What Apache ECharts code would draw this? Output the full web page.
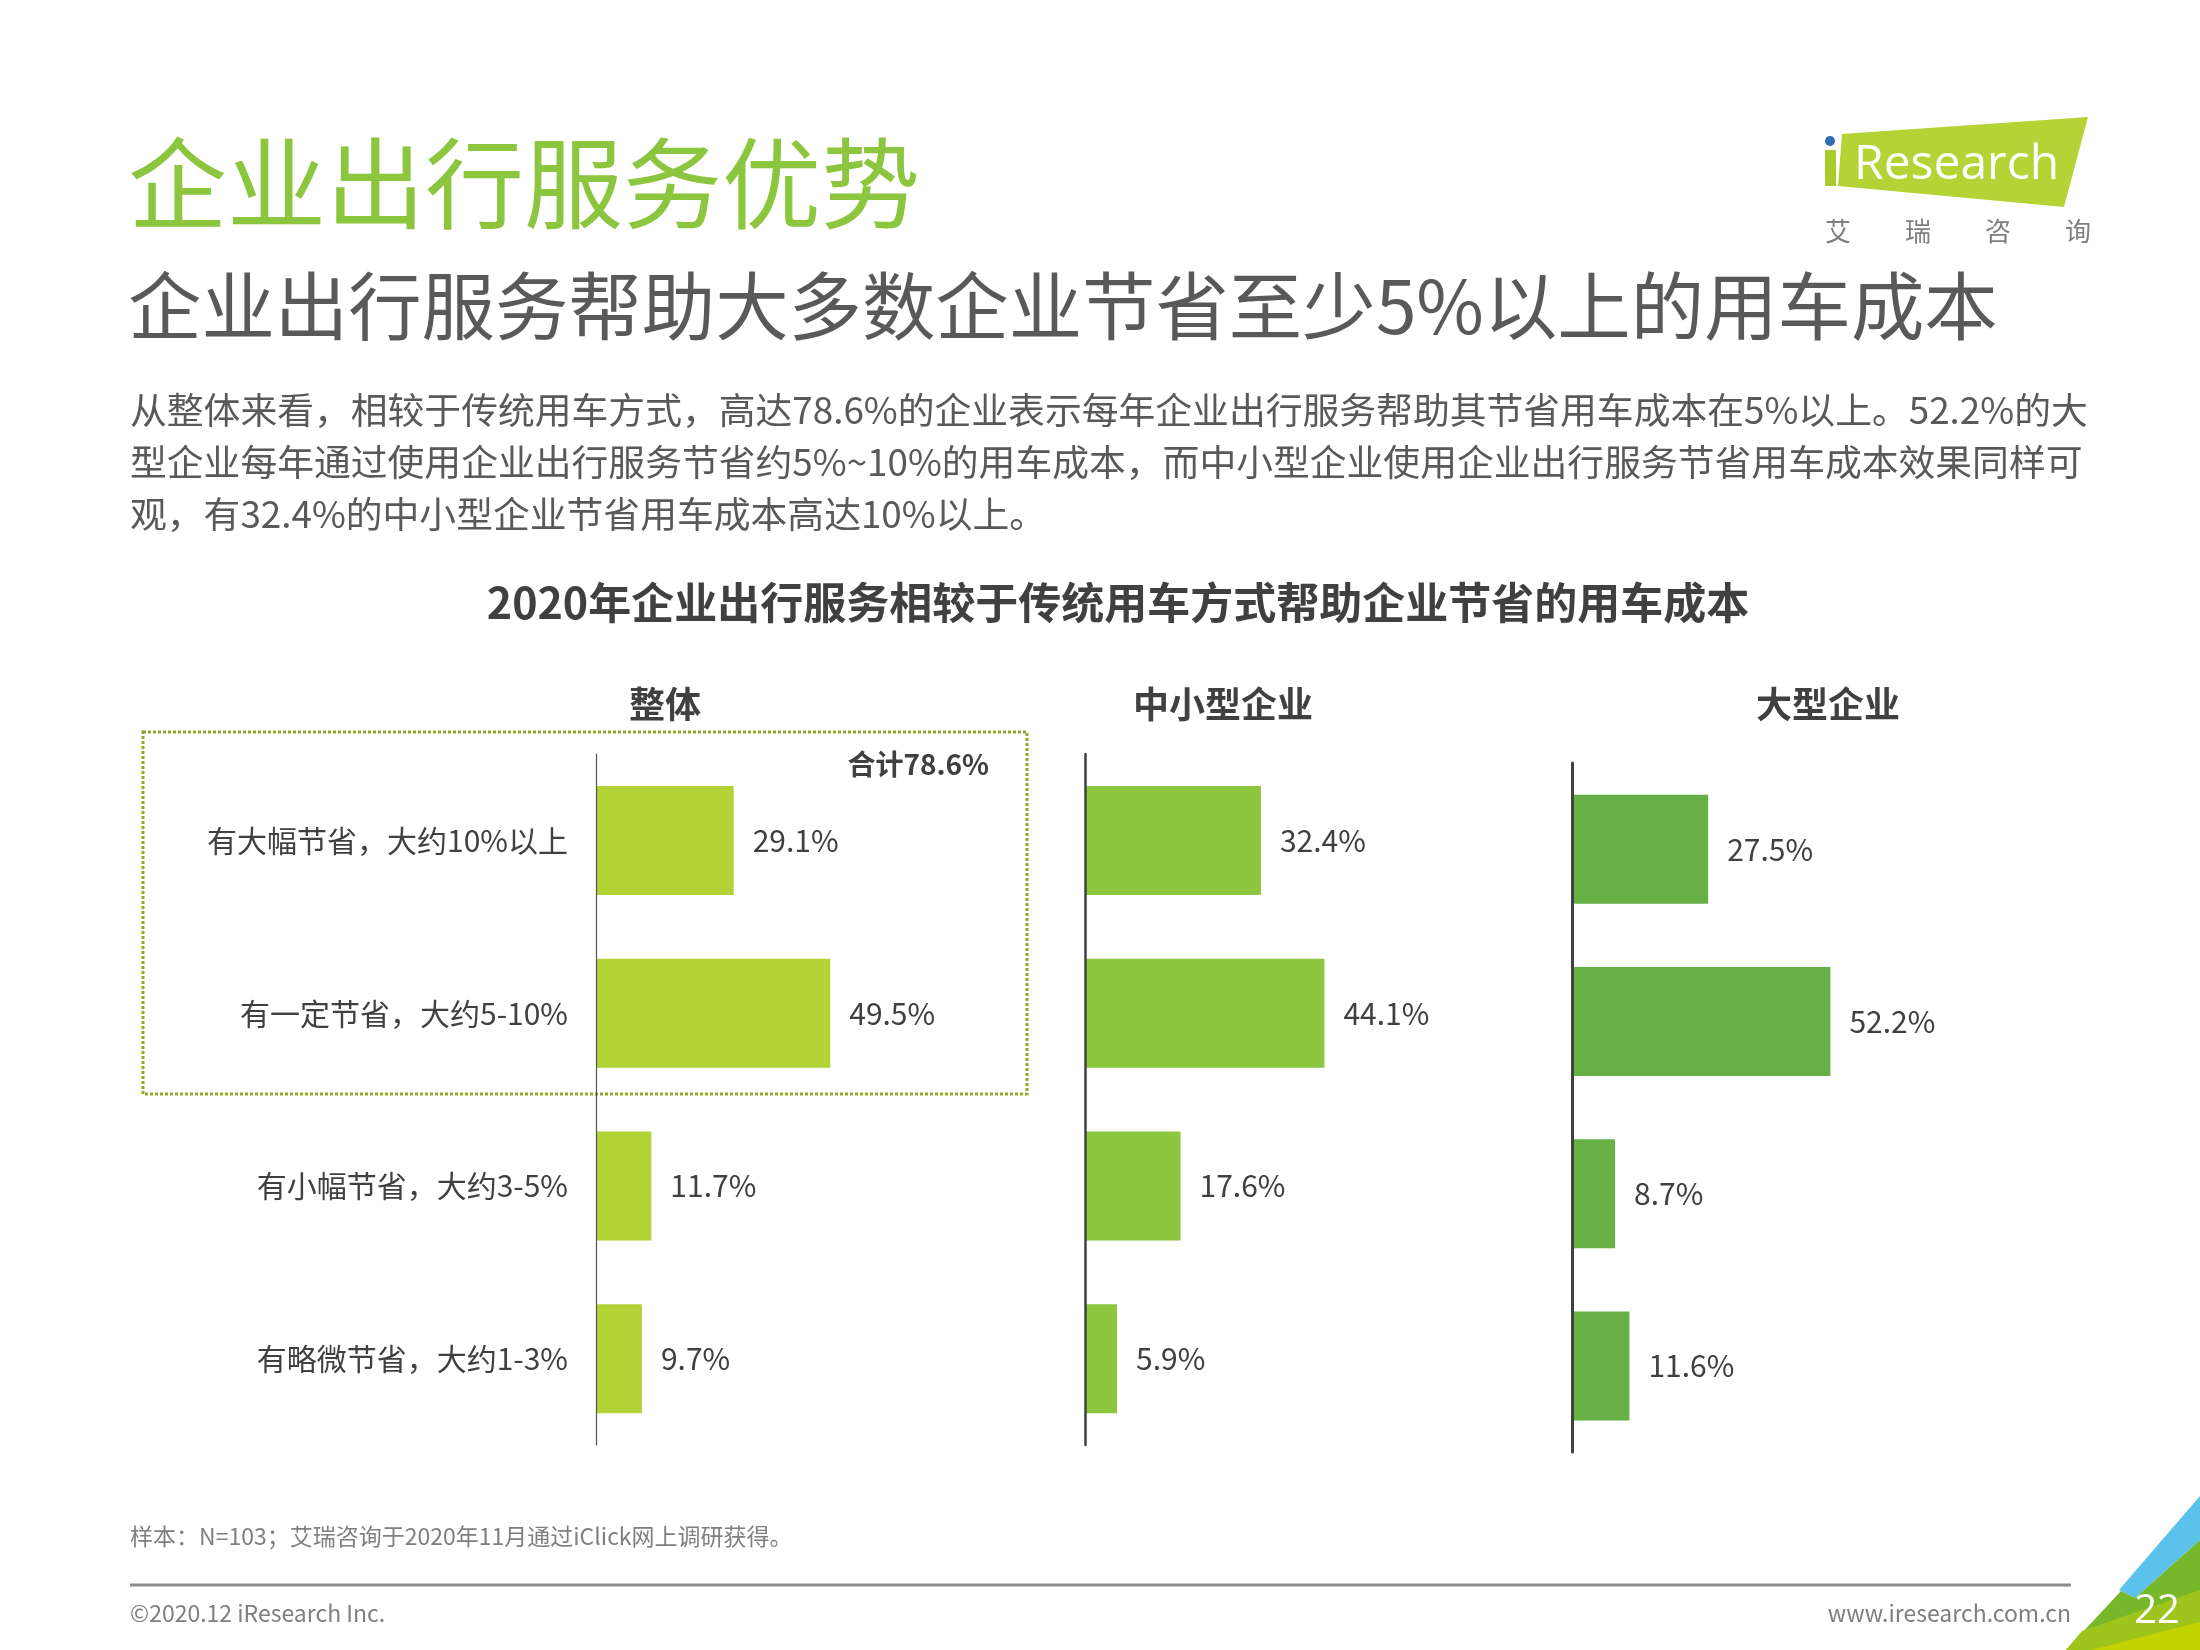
<!DOCTYPE html>
<html><head><meta charset="utf-8">
<script src="https://cdn.jsdelivr.net/npm/echarts@6/dist/echarts.min.js"></script>
<style>html,body{margin:0;padding:0;background:#fff}#c{width:2200px;height:1650px}</style>
</head><body><div id="c"></div>
<script>
// ---- data ----
const categories = ['有大幅节省，大约10%以上', '有一定节省，大约5-10%', '有小幅节省，大约3-5%', '有略微节省，大约1-3%'];
const panelTitles = ['整体', '中小型企业', '大型企业'];
const overallValues = [29.1, 49.5, 11.7, 9.7];
const smeValues = [32.4, 44.1, 17.6, 5.9];
const largeValues = [27.5, 52.2, 8.7, 11.6];
const totalLabel = '合计78.6%';
const pageTitle = '企业出行服务优势';
const subTitle = '企业出行服务帮助大多数企业节省至少5%以上的用车成本';
const paragraphLines = [
  '从整体来看，相较于传统用车方式，高达78.6%的企业表示每年企业出行服务帮助其节省用车成本在5%以上。52.2%的大',
  '型企业每年通过使用企业出行服务节省约5%~10%的用车成本，而中小型企业使用企业出行服务节省用车成本效果同样可',
  '观，有32.4%的中小型企业节省用车成本高达10%以上。'
];
const chartTitle = '2020年企业出行服务相较于传统用车方式帮助企业节省的用车成本';
const sourceNote = '样本：N=103；艾瑞咨询于2020年11月通过iClick网上调研获得。';
const copyright = '©2020.12 iResearch Inc.';
const website = 'www.iresearch.com.cn';
const pageNumber = '22';

const FONT = '"Noto Sans CJK SC", "Noto Sans", sans-serif';
const chart = echarts.init(document.getElementById('c'), null, {renderer: 'canvas'});

const panels = [
  {values: overallValues, color: '#B2D235', grid: {left: 596, top: 754, width: 300, height: 691}, max: 63.4, axisColor: '#555', axisWidth: 1.2, titleX: 665},
  {values: smeValues, color: '#8DC63F', grid: {left: 1085, top: 754, width: 300, height: 691}, max: 55.25, axisColor: '#404040', axisWidth: 2.5, titleX: 1223},
  {values: largeValues, color: '#66B046', grid: {left: 1572, top: 763, width: 300, height: 689}, max: 60.6, axisColor: '#404040', axisWidth: 3, titleX: 1828}
];

const txt = (text, x, y, size, color, opts = {}) => ({
  type: 'text', x, y, z: 20,
  style: Object.assign({text, fontSize: size, fill: color, fontFamily: FONT, textVerticalAlign: 'middle', textAlign: 'left'}, opts)
});

const graphics = [
  txt(pageTitle, 128, 183, 99, '#8CC63F'),
  txt(subTitle, 128, 306, 73.4, '#595959'),
  ...paragraphLines.map((l, i) => txt(l, 130, 410 + i * 52, 36.8, '#595959')),
  txt(chartTitle, 1118, 603, 43, '#404040', {textAlign: 'center', fontWeight: 'bold'}),
  ...panelTitles.map((t, i) => txt(t, panels[i].titleX, 704, 36, '#404040', {textAlign: 'center', fontWeight: 'bold'})),
  txt(totalLabel, 989, 764, 28, '#404040', {textAlign: 'right', fontWeight: 'bold'}),
  {type: 'rect', z: 5, shape: {x: 143, y: 732, width: 884, height: 362},
   style: {fill: 'none', stroke: '#8FAA2B', lineWidth: 3, lineDash: [3, 2]}},
  txt(sourceNote, 130, 1536, 23, '#7F7F7F'),
  {type: 'line', z: 5, shape: {x1: 130, y1: 1585, x2: 2071, y2: 1585}, style: {stroke: '#8C8C8C', lineWidth: 3}},
  txt(copyright, 130, 1613, 23, '#7F7F7F'),
  txt(website, 2071, 1613, 23, '#7F7F7F', {textAlign: 'right'}),
  // corner decoration
  {type: 'polygon', z: 6, shape: {points: [[2200,1496],[2200,1540],[2135,1598],[2119,1590]]}, style: {fill: '#5BC2EC'}},
  {type: 'polygon', z: 6, shape: {points: [[2200,1540],[2200,1650],[2066,1650],[2121,1591],[2135,1598]]}, style: {fill: '#77B82A'}},
  {type: 'polygon', z: 7, shape: {points: [[2082,1631],[2200,1590],[2200,1650],[2066,1650]]}, style: {fill: '#9DC51E'}},
  {type: 'polygon', z: 8, shape: {points: [[2092,1650],[2200,1622],[2200,1650]]}, style: {fill: '#C2D400'}},
  txt(pageNumber, 2157, 1612, 40, '#FFFFFF', {textAlign: 'center', fontFamily: '"Open Sans", sans-serif'}),
  // logo
  {type: 'polygon', z: 6, shape: {points: [[1842,134],[2088,117],[2064,207],[1838,186]]}, style: {fill: '#B5D334'}},
  {type: 'rect', z: 7, shape: {x: 1825, y: 150, width: 11, height: 36}, style: {fill: '#A9CB2C'}},
  {type: 'circle', z: 7, shape: {cx: 1830, cy: 141, r: 5}, style: {fill: '#2F6DB5'}},
  txt('Research', 1854, 165, 48, '#FFFFFF', {fontFamily: '"Open Sans", sans-serif'}),
  ...['艾', '瑞', '咨', '询'].map((c, i) => txt(c, 1838 + i * 80, 231, 26, '#7F7F7F', {textAlign: 'center'}))
];

const option = {
  backgroundColor: '#FFFFFF',
  animation: false,
  textStyle: {fontFamily: FONT},
  grid: panels.map(p => Object.assign({containLabel: false}, p.grid)),
  xAxis: panels.map((p, i) => ({type: 'value', gridIndex: i, min: 0, max: p.max, show: false})),
  yAxis: panels.map((p, i) => ({
    type: 'category', gridIndex: i, data: categories, inverse: true, z: 10,
    axisTick: {show: false},
    axisLine: {show: true, lineStyle: {color: p.axisColor, width: p.axisWidth}},
    axisLabel: {show: i === 0, margin: 28, fontSize: 30, color: '#404040', fontFamily: FONT}
  })),
  series: panels.map((p, i) => ({
    type: 'bar', xAxisIndex: i, yAxisIndex: i, data: p.values, barWidth: 109,
    itemStyle: {color: p.color},
    label: {show: true, position: 'right', distance: 19, fontSize: 30, color: '#404040', fontFamily: FONT,
            formatter: d => d.value.toFixed(1) + '%'}
  })),
  graphic: graphics
};
chart.setOption(option);
</script>
</body></html>
